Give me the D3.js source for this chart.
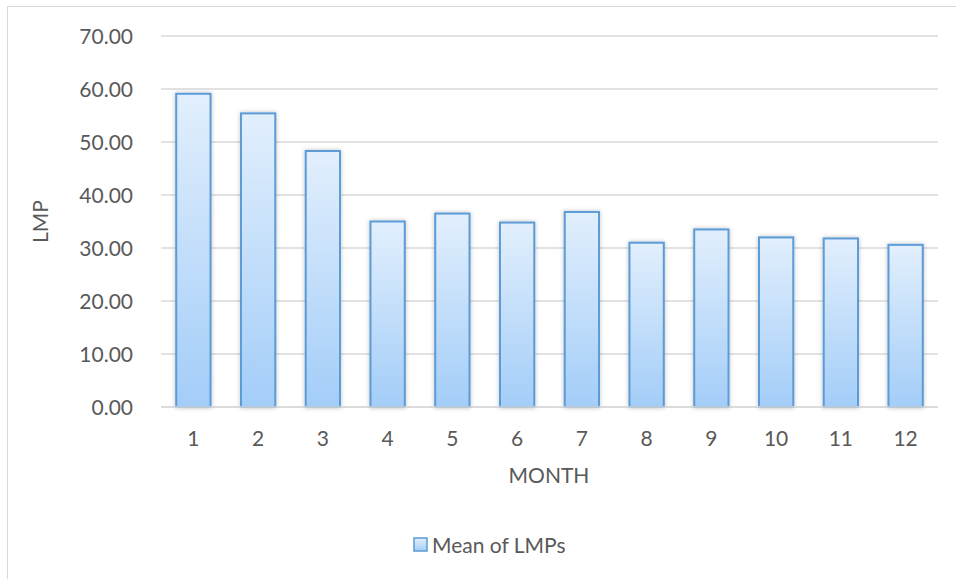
<!DOCTYPE html>
<html><head><meta charset="utf-8">
<script src="https://cdn.jsdelivr.net/npm/d3@7"></script>
<style>body{margin:0;background:#fff;} svg{display:block;}</style>
</head><body>
<svg id="c" width="956" height="579"></svg>
<script>
const months = ["1","2","3","4","5","6","7","8","9","10","11","12"];
const meanLMP = [59.1, 55.4, 48.3, 35.0, 36.5, 34.8, 36.8, 31.0, 33.5, 32.0, 31.8, 30.6];
const yTicks = [0,10,20,30,40,50,60,70];
const seriesName = "Mean of LMPs";
const xTitle = "MONTH", yTitle = "LMP";

const svg = d3.select("#c");
const font = "Lato, 'Open Sans', sans-serif";
const textCol = "#595959";
const pL = 161, pR = 938, pT = 36, pB = 407;

const defs = svg.append("defs");
const g = defs.append("linearGradient").attr("id","bg").attr("x1",0).attr("y1",0).attr("x2",0).attr("y2",1);
g.append("stop").attr("offset","0%").attr("stop-color","#e2effd");
g.append("stop").attr("offset","100%").attr("stop-color","#a3cdf8");
const f = defs.append("filter").attr("id","sh").attr("x","-30%").attr("y","-10%").attr("width","160%").attr("height","120%");
f.append("feDropShadow").attr("dx",0).attr("dy",0).attr("stdDeviation",2).attr("flood-color","#000").attr("flood-opacity",0.25);

// outer frame
svg.append("path").attr("d","M7.5,579 V6.5 H956").attr("fill","none").attr("stroke","#d9d9d9").attr("stroke-width",1);

const x = d3.scaleBand().domain(months).range([pL,pR]).paddingInner(0.47).paddingOuter(0.235);
const y = d3.scaleLinear().domain([0,70]).range([pB,pT]);

// gridlines
svg.append("g").selectAll("line").data(yTicks).join("line")
  .attr("x1",pL).attr("x2",pR).attr("y1",d=>y(d)).attr("y2",d=>y(d))
  .attr("stroke","#d9d9d9").attr("stroke-width",1.5);

// y axis labels
const yAxis = svg.append("g").attr("transform",`translate(133,0)`)
  .call(d3.axisLeft(y).tickValues(yTicks).tickFormat(d3.format(".2f")).tickSize(0).tickPadding(0));
yAxis.select(".domain").remove();
yAxis.selectAll("text").attr("font-family",font).attr("font-size",21).attr("fill",textCol).attr("text-anchor","end").attr("dy","0.36em");

// bars
svg.append("g").selectAll("rect").data(meanLMP).join("rect")
  .attr("x",(d,i)=>x(months[i])).attr("width",x.bandwidth())
  .attr("y",d=>y(d)).attr("height",d=>y(0)-y(d))
  .attr("fill","url(#bg)").attr("stroke","#5b9bd5").attr("stroke-width",2)
  .attr("filter","url(#sh)");

// baseline
svg.append("line").attr("x1",pL).attr("x2",pR).attr("y1",y(0)).attr("y2",y(0)).attr("stroke","#d9d9d9").attr("stroke-width",1.5);

// x axis labels
const xAxis = svg.append("g").attr("transform",`translate(0,${pB})`)
  .call(d3.axisBottom(x).tickSize(0).tickPadding(0));
xAxis.select(".domain").remove();
xAxis.selectAll("text").attr("font-family",font).attr("font-size",21).attr("fill",textCol).attr("y",31).attr("dy","0.36em");

// titles
svg.append("text").attr("x",(pL+pR)/2-0.5).attr("y",475).attr("dy","0.36em").attr("text-anchor","middle")
  .attr("font-family",font).attr("font-size",21).attr("fill",textCol).text(xTitle);
svg.append("text").attr("transform",`translate(40,${(pT+pB)/2}) rotate(-90)`).attr("dy","0.36em").attr("text-anchor","middle")
  .attr("font-family",font).attr("font-size",21).attr("fill",textCol).text(yTitle);

// legend
const lg = svg.append("g");
lg.append("rect").attr("x",414).attr("y",538).attr("width",13).attr("height",13)
  .attr("fill","url(#bg)").attr("stroke","#5b9bd5").attr("stroke-width",1.5);
lg.append("text").attr("x",432).attr("y",545).attr("dy","0.36em")
  .attr("font-family",font).attr("font-size",21).attr("fill",textCol).text(seriesName);
</script>
</body></html>
